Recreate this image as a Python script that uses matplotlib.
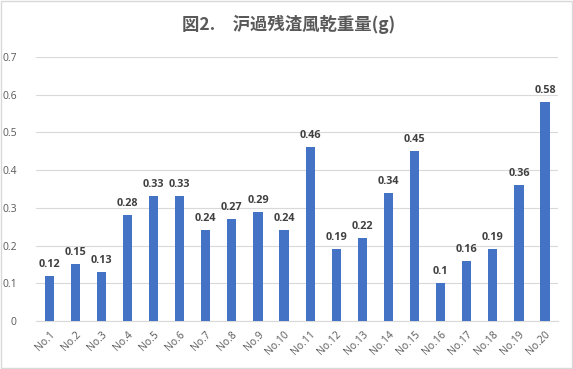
import matplotlib
matplotlib.use('Agg')
import matplotlib.pyplot as plt

plt.rcParams['font.family'] = ['Open Sans', 'Noto Sans CJK JP', 'DejaVu Sans']

labels = ['No.%d' % i for i in range(1, 21)]
values = [0.12, 0.15, 0.13, 0.28, 0.33, 0.33, 0.24, 0.27, 0.29, 0.24,
          0.46, 0.19, 0.22, 0.34, 0.45, 0.1, 0.16, 0.19, 0.36, 0.58]
yticks = [0, 0.1, 0.2, 0.3, 0.4, 0.5, 0.6, 0.7]
title = '図2.\u3000沪過残渣風乾重量(g)'

txt = '#595959'
fig = plt.figure(figsize=(5.73, 3.69), dpi=100, facecolor='white')
ax = fig.add_axes([0.063, 0.130, 0.911, 0.716])

x = range(len(values))
ax.bar(x, values, width=0.35, color='#4472C4', zorder=3)
for i, v in zip(x, values):
    ax.text(i, v + 0.016, ('%g' % v), ha='center', va='bottom',
            fontsize=7.8, fontweight='bold', color='#404040')

ax.set_xlim(-0.5, len(values) - 0.5)
ax.set_ylim(0, 0.7)
ax.set_yticks(yticks)
ax.set_yticklabels(['0'] + ['%g' % t for t in yticks[1:]], fontsize=7.5, color=txt)
ax.set_xticks(list(x))
ax.set_xticklabels(labels, rotation=45, ha='right', rotation_mode='anchor',
                   fontsize=7.5, color=txt)
ax.grid(axis='y', color='#D9D9D9', linewidth=0.8, zorder=0)
for s in ['top', 'right', 'left']:
    ax.spines[s].set_visible(False)
ax.spines['bottom'].set_color('#D9D9D9')
ax.tick_params(length=0, pad=6)
ax.tick_params(axis='y', pad=14)

fig.text(0.503, 0.935, title, ha='center', va='center', fontsize=12.5,
         fontweight='bold', color=txt, family=['Noto Sans CJK JP', 'DejaVu Sans'])

border = plt.Rectangle((0.002, 0.003), 0.996, 0.994, transform=fig.transFigure,
                       fill=False, edgecolor='#D9D9D9', linewidth=1)
fig.patches.append(border)

fig.savefig('out.png', dpi=100, facecolor='white')
